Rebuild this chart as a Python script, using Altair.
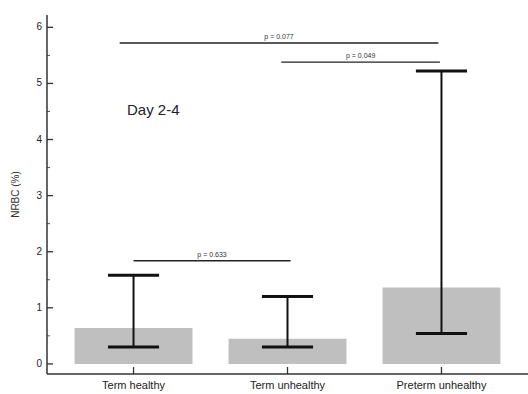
import altair as alt
import pandas as pd

# Group summary: bar height and whisker range of NRBC (%)
groups = ["Term healthy", "Term unhealthy", "Preterm unhealthy"]
bar_values = [0.64, 0.45, 1.36]
whisker_low = [0.30, 0.30, 0.54]
whisker_high = [1.58, 1.20, 5.22]

# Pairwise comparisons drawn as brackets above the bars
sig_labels = ["p = 0.077", "p = 0.049", "p = 0.633"]
sig_start = [-0.09, 0.96, 0.0]
sig_end = [1.98, 1.99, 1.02]
sig_level = [5.72, 5.38, 1.84]

y_ticks = [0, 1, 2, 3, 4, 5, 6]
y_minor = [0.5, 1.5, 2.5, 3.5, 4.5, 5.5]
y_title = "NRBC (%)"
panel_label = "Day 2-4"

FONT = "Liberation Sans"
AXIS_COLOR = "#333333"
BAR_HALF = 0.383
CAP_HALF = 0.166

# Axis frame: data ranges and where the frame sits on the canvas
X_DOM = [-0.562, 2.562]
Y_DOM = [-0.18, 6.22]
TOTAL_W, TOTAL_H = 528, 394
LEFT, TOP, BOTTOM = 47, 15, 20
FRAME_W = TOTAL_W - LEFT
FRAME_H = TOTAL_H - TOP - BOTTOM
X0, X1 = LEFT, TOTAL_W            # pixel extent of the x axis line
Y0, Y1 = TOP + FRAME_H, TOP       # pixel extent of the y axis line

# The scales span the whole canvas so labels stay inside the drawing area
px_x = FRAME_W / (X_DOM[1] - X_DOM[0])
px_y = FRAME_H / (Y_DOM[1] - Y_DOM[0])
x_full = [X_DOM[0] - LEFT / px_x, X_DOM[1]]
y_full = [Y_DOM[0] - BOTTOM / px_y, Y_DOM[1] + TOP / px_y]

idx = list(range(len(groups)))
bars = pd.DataFrame({
    "i": idx,
    "group": groups,
    "left": [i - BAR_HALF for i in idx],
    "right": [i + BAR_HALF for i in idx],
    "value": bar_values,
    "lo": whisker_low,
    "hi": whisker_high,
    "capl": [i - CAP_HALF for i in idx],
    "capr": [i + CAP_HALF for i in idx],
})
caps = pd.concat([
    bars[["capl", "capr"]].assign(y=bars["lo"]),
    bars[["capl", "capr"]].assign(y=bars["hi"]),
])
sig = pd.DataFrame({
    "label": sig_labels,
    "x1": sig_start,
    "x2": sig_end,
    "y": sig_level,
    "mid": [(a + b) / 2 for a, b in zip(sig_start, sig_end)],
})

xs = alt.Scale(domain=x_full, nice=False, zero=False)
ys = alt.Scale(domain=y_full, nice=False, zero=False)


def qx(field):
    return alt.X(field, scale=xs, axis=None)


def qy(field):
    return alt.Y(field, scale=ys, axis=None)


base = alt.Chart(bars)

bar_layer = base.mark_rect(color="#bfbfbf").encode(
    x=qx("left:Q"), x2="right:Q", y=qy("value:Q"), y2=alt.datum(0)
)

whisker = base.mark_rule(color="#111111", strokeWidth=2).encode(
    x=qx("i:Q"), y=qy("lo:Q"), y2="hi:Q"
)

cap_layer = alt.Chart(caps).mark_rule(color="#111111", strokeWidth=3).encode(
    x=qx("capl:Q"), x2="capr:Q", y=qy("y:Q")
)

sig_lines = alt.Chart(sig).mark_rule(color="#222222", strokeWidth=1.4).encode(
    x=qx("x1:Q"), x2="x2:Q", y=qy("y:Q")
)

sig_text = alt.Chart(sig).mark_text(
    font=FONT, fontSize=7, color="#333333", dy=-6, baseline="middle"
).encode(x=qx("mid:Q"), y=qy("y:Q"), text="label:N")

# Axis lines, inward ticks and tick labels
frame = alt.Chart(pd.DataFrame({"t": [y_title]}))
y_line = frame.mark_rule(color=AXIS_COLOR, strokeWidth=1.5).encode(
    x=alt.value(X0), y=alt.value(Y1), y2=alt.value(Y0)
)
x_line = frame.mark_rule(color=AXIS_COLOR, strokeWidth=1.5).encode(
    x=alt.value(X0), x2=alt.value(X1), y=alt.value(Y0)
)
y_title_mark = frame.mark_text(
    font=FONT, fontSize=10, color=AXIS_COLOR, angle=270, baseline="middle",
    align="center"
).encode(x=alt.value(X0 - 31), y=alt.value(TOP + FRAME_H / 2), text="t:N")

ticks_df = pd.DataFrame({"t": y_ticks, "lab": [str(v) for v in y_ticks]})
minor_df = pd.DataFrame({"t": y_minor})
y_major = alt.Chart(ticks_df).mark_rule(color=AXIS_COLOR, strokeWidth=1.3).encode(
    y=qy("t:Q"), x=alt.value(X0), x2=alt.value(X0 + 6)
)
y_labels = alt.Chart(ticks_df).mark_text(
    font=FONT, fontSize=10, color="#222222", align="right", baseline="middle"
).encode(y=qy("t:Q"), x=alt.value(X0 - 5), text="lab:N")
y_minor_marks = alt.Chart(minor_df).mark_rule(color="#555555", strokeWidth=1).encode(
    y=qy("t:Q"), x=alt.value(X0), x2=alt.value(X0 + 3)
)
x_ticks = base.mark_rule(color=AXIS_COLOR, strokeWidth=1.3).encode(
    x=qx("i:Q"), y=alt.value(Y0 - 7), y2=alt.value(Y0)
)
x_labels = base.mark_text(
    font=FONT, fontSize=11, color="#222222", baseline="middle"
).encode(x=qx("i:Q"), y=alt.value(Y0 + 12), text="group:N")

day_label = alt.Chart(pd.DataFrame({"t": [panel_label]})).mark_text(
    font=FONT, fontSize=15, color="#222222", align="left", baseline="middle"
).encode(x=alt.value(X0 + 80), y=alt.value(TOP + 95), text="t:N")

chart = alt.layer(
    bar_layer, whisker, cap_layer, sig_lines, sig_text,
    y_major, y_minor_marks, x_ticks, y_line, x_line,
    y_labels, x_labels, y_title_mark, day_label
).properties(
    width=TOTAL_W, height=TOTAL_H,
    padding=0,
    autosize=alt.AutoSizeParams(type="none"),
    background="white",
).configure_view(stroke="transparent", strokeWidth=0)

chart.save("out.html", embed_options={"renderer": "svg", "actions": False})
